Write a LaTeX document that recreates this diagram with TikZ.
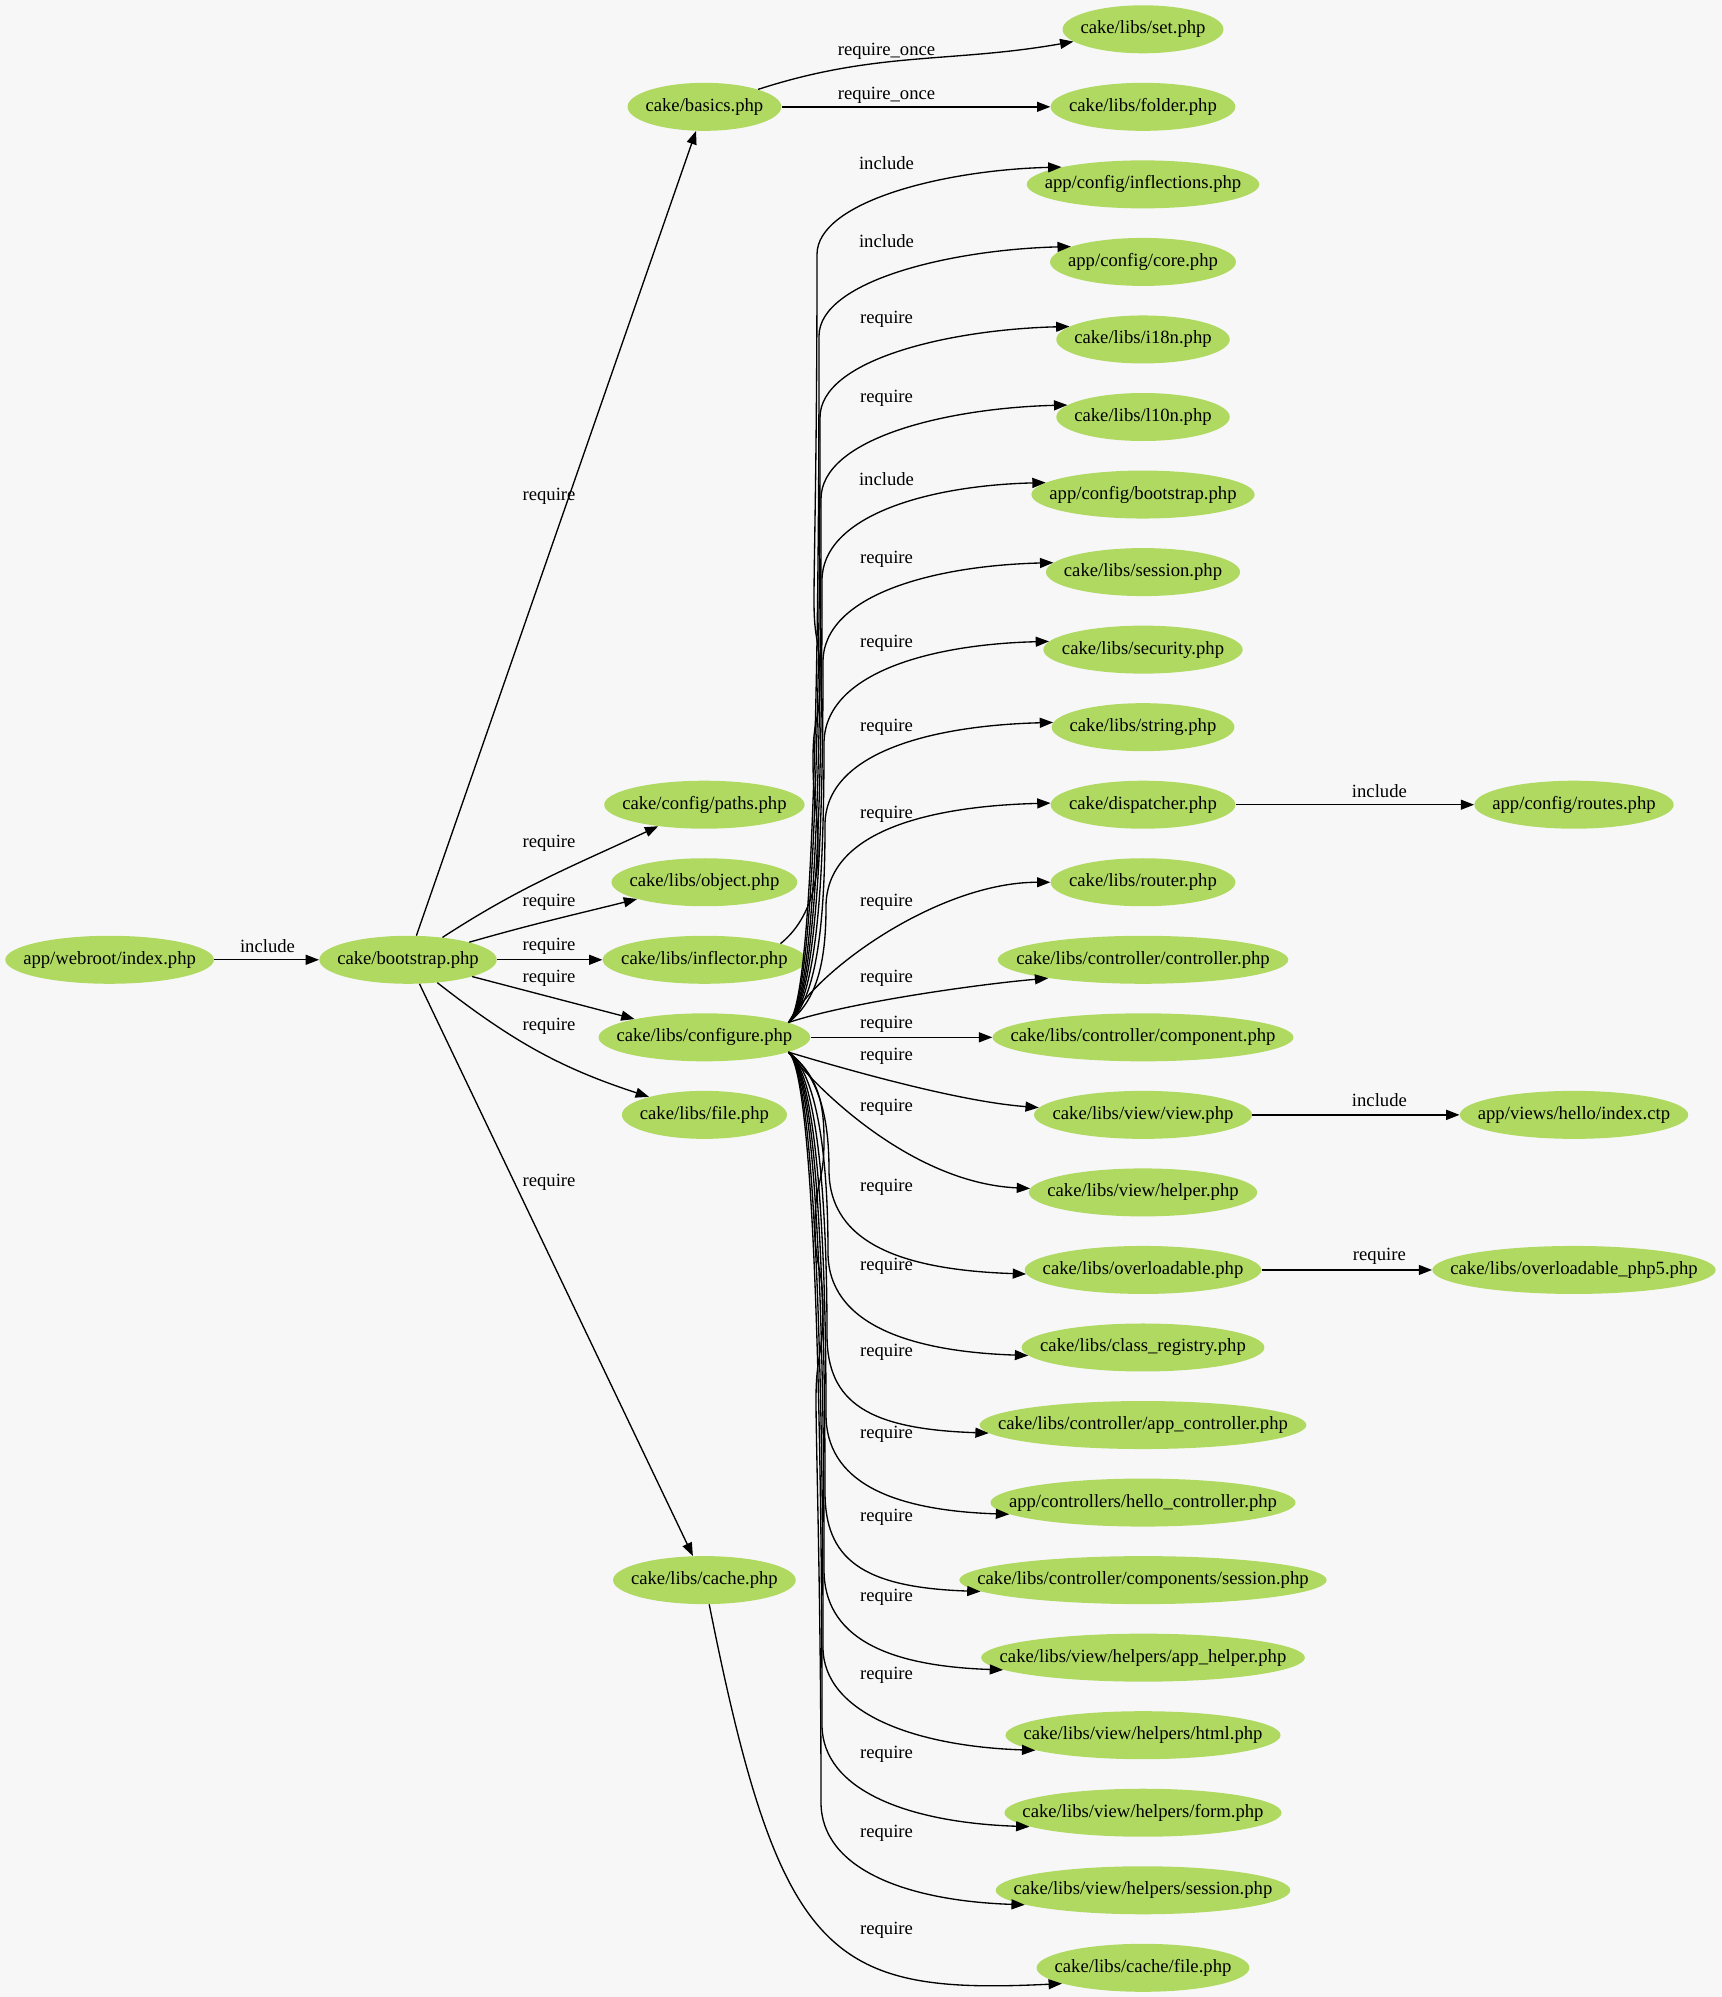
\documentclass[tikz,border=0pt]{standalone}
\usepackage{fontspec}
\setmainfont{Liberation Serif}
\usetikzlibrary{arrows.meta,shapes.geometric}

\definecolor{pagebg}{RGB}{247,247,247}
\definecolor{filefill}{RGB}{176,217,98}

\newcommand\gvfont{\fontsize{14pt}{16pt}\selectfont}

% file node: name, x, row, ellipse width (pt), label
\newcommand\gvnode[5]{%
  \node[filenode, minimum width=#4pt] (#1) at (#2,{29.3+77.54*#3}) {\makebox[0pt]{#5}};}

% edge label: name, x, y, text
\newcommand\gvlabel[4]{\node[edgelabel] (#1) at (#2,#3) {#4};}

% edge that climbs the bundle and bends right into its target
% #1 start, #2 target, #3 angle, #4 bundle x, #5 bend start y, #6 rise handle, #7 bend handle
\newcommand\upbranch[7]{%
  \draw[gvedge] (#1) .. controls +(28,-22) and +(0,#6) .. (#4,#5)
    .. controls +(0,-#7) and +(-120,3) .. (#2.#3);}
% same, going down the bundle
\newcommand\downbranch[7]{%
  \draw[gvedge] (#1) .. controls +(28,22) and +(0,-#6) .. (#4,#5)
    .. controls +(0,#7) and +(-120,-4) .. (#2.#3);}

\tikzset{
  filenode/.style={ellipse, fill=filefill, draw=none, inner sep=0pt,
    minimum height=36pt, font=\gvfont},
  edgelabel/.style={font=\gvfont, inner sep=0pt},
  gvedge/.style={draw=black, line width=1pt, -{Triangle[length=10pt,width=7.5pt]}},
}

\begin{document}
\begin{tikzpicture}[x=0.75pt, y=-0.75pt]
\fill[pagebg] (0,0) rectangle (1722,1997);
\useasboundingbox (0,0) rectangle (1722,1997);

% ---- nodes ----
\gvnode{index}{109.6}{12}{156.5}{app/webroot/index.php}
\gvnode{bootstrap}{408}{12}{133.1}{cake/bootstrap.php}

\gvnode{basics}{704.4}{1}{115.3}{cake/basics.php}
\gvnode{paths}{704.4}{10}{150.3}{cake/config/paths.php}
\gvnode{object}{704.4}{11}{139.4}{cake/libs/object.php}
\gvnode{inflector}{704.4}{12}{152.6}{cake/libs/inflector.php}
\gvnode{configure}{704.4}{13}{158.8}{cake/libs/configure.php}
\gvnode{file}{704.4}{14}{123.8}{cake/libs/file.php}
\gvnode{cache}{704.4}{20}{137}{cake/libs/cache.php}

\gvnode{set}{1143}{0}{120.7}{cake/libs/set.php}
\gvnode{folder}{1143}{1}{138.6}{cake/libs/folder.php}
\gvnode{inflections}{1143}{2}{174.4}{app/config/inflections.php}
\gvnode{core}{1143}{3}{139.4}{app/config/core.php}
\gvnode{ieighteen}{1143}{4}{130.1}{cake/libs/i18n.php}
\gvnode{lten}{1143}{5}{130.1}{cake/libs/l10n.php}
\gvnode{appboot}{1143}{6}{167.4}{app/config/bootstrap.php}
\gvnode{session}{1143}{7}{145.6}{cake/libs/session.php}
\gvnode{security}{1143}{8}{149.5}{cake/libs/security.php}
\gvnode{string}{1143}{9}{137.1}{cake/libs/string.php}
\gvnode{dispatcher}{1143}{10}{138.6}{cake/dispatcher.php}
\gvnode{router}{1143}{11}{138.6}{cake/libs/router.php}
\gvnode{controller}{1143}{12}{217.9}{cake/libs/controller/controller.php}
\gvnode{component}{1143}{13}{225.7}{cake/libs/controller/component.php}
\gvnode{view}{1143}{14}{163.5}{cake/libs/view/view.php}
\gvnode{helper}{1143}{15}{171.3}{cake/libs/view/helper.php}
\gvnode{overloadable}{1143}{16}{177.5}{cake/libs/overloadable.php}
\gvnode{classreg}{1143}{17}{182.1}{cake/libs/class\_registry.php}
\gvnode{appctrl}{1143}{18}{245.1}{cake/libs/controller/app\_controller.php}
\gvnode{helloctrl}{1143}{19}{228.8}{app/controllers/hello\_controller.php}
\gvnode{compsession}{1143}{20}{275.5}{cake/libs/controller/components/session.php}
\gvnode{apphelper}{1143}{21}{242.8}{cake/libs/view/helpers/app\_helper.php}
\gvnode{html}{1143}{22}{206.3}{cake/libs/view/helpers/html.php}
\gvnode{form}{1143}{23}{207.8}{cake/libs/view/helpers/form.php}
\gvnode{hsession}{1143}{24}{221}{cake/libs/view/helpers/session.php}
\gvnode{cachefile}{1143}{25}{159.6}{cake/libs/cache/file.php}

\gvnode{routes}{1574}{10}{149.5}{app/config/routes.php}
\gvnode{indexctp}{1574}{14}{171.3}{app/views/hello/index.ctp}
\gvnode{phpfive}{1574}{16}{212.5}{cake/libs/overloadable\_php5.php}

% ---- straight and simple edges ----
\draw[gvedge] (index) -- (bootstrap);
\draw[gvedge] (bootstrap) -- (basics);
\draw[gvedge] (bootstrap) to[out=33,in=205] (paths);
\draw[gvedge] (bootstrap) to[out=16,in=194] (object);
\draw[gvedge] (bootstrap) -- (inflector);
\draw[gvedge] (bootstrap) -- (configure);
\draw[gvedge] (bootstrap) to[out=-38,in=162] (file);
\draw[gvedge] (bootstrap) -- (cache);

\draw[gvedge] (basics) to[out=18,in=190] (set);
\draw[gvedge] (basics) -- (folder);

\draw[gvedge] (dispatcher) -- (routes);
\draw[gvedge] (view) -- (indexctp);
\draw[gvedge] (overloadable) -- (phpfive);

\draw[gvedge] (cache) .. controls (780,1960) and (830,1995) .. (cachefile.191);

% ---- bundle above configure ----
% the inflector edge drifts a little left of the bundle on its way up
\draw[gvedge] (inflector.12) .. controls +(25,-20) and +(0,40) .. (818,850)
  .. controls +(0,-45) and +(0,45) .. (813,760)
  .. controls +(0,-45) and +(0,45) .. (820,680)
  .. controls +(0,-45) and +(0,45) .. (814,600)
  .. controls +(0,-45) and +(0,200) .. (817,254.4)
  .. controls +(0,-52) and +(-120,3) .. (inflections.168);
\upbranch{configure.10}{core}{168}{819}{336}{250}{55}
\upbranch{configure.10}{ieighteen}{170}{820}{417.5}{250}{58}
\upbranch{configure.10}{lten}{171}{821}{499}{250}{61}
\upbranch{configure.10}{appboot}{173}{822}{580.5}{220}{64}
\upbranch{configure.10}{session}{174}{823}{662}{180}{67}
\upbranch{configure.10}{security}{175}{824}{743.6}{139}{70}
\upbranch{configure.10}{string}{177}{825}{825}{98}{73}
\upbranch{configure.10}{dispatcher}{179}{826}{906.7}{57}{76}

\draw[gvedge] (configure.10) .. controls +(30,-55) and +(-110,0) .. (router.180);
\draw[gvedge] (configure.10) .. controls +(60,-20) and +(-70,6) .. (controller.191);
\draw[gvedge] (configure) -- (component);
\draw[gvedge] (configure.-10) .. controls +(60,18) and +(-80,-6) .. (view.176);
\draw[gvedge] (configure.-10) .. controls +(40,50) and +(-110,-5) .. (helper.178);

% ---- bundle below configure ----
\downbranch{configure.-10}{overloadable}{182}{829}{1170}{59}{75}
\downbranch{configure.-10}{classreg}{184}{828}{1252.5}{100}{71}
\downbranch{configure.-10}{appctrl}{183}{827}{1335}{141}{68}
\downbranch{configure.-10}{helloctrl}{185}{826}{1414.6}{181}{66}
\downbranch{configure.-10}{compsession}{184}{825}{1492}{220}{66}
\downbranch{configure.-10}{apphelper}{185}{824}{1569.6}{250}{66}
\downbranch{configure.-10}{html}{188}{823}{1647.2}{250}{66}
\downbranch{configure.-10}{form}{187}{822}{1724.7}{250}{66}
% this one weaves slightly left of the bundle on its way down
\draw[gvedge] (configure.-10) .. controls +(28,22) and +(0,-40) .. (824,1140)
  .. controls +(0,45) and +(0,-45) .. (815,1225)
  .. controls +(0,45) and +(0,-45) .. (823,1310)
  .. controls +(0,45) and +(0,-45) .. (816,1400)
  .. controls +(0,45) and +(0,-200) .. (821,1802.3)
  .. controls +(0,66) and +(-120,-4) .. (hsession.187);

% ---- edge labels ----
\gvlabel{l-index}{267.5}{946}{include}
\gvlabel{l-basics}{549}{496.7}{require}
\gvlabel{l-paths}{549}{843}{require}
\gvlabel{l-object}{549}{901.8}{require}
\gvlabel{l-inflector}{549}{946}{require}
\gvlabel{l-configure}{549}{978}{require}
\gvlabel{l-file}{549}{1026.6}{require}
\gvlabel{l-cache}{549}{1182}{require}

\gvlabel{l-set}{886.5}{51}{require\_once}
\gvlabel{l-folder}{886.5}{95.5}{require\_once}
\gvlabel{l-inflections}{886.5}{163}{include}
\gvlabel{l-core}{886.5}{240.7}{include}
\gvlabel{l-ieighteen}{886.5}{319.7}{require}
\gvlabel{l-lten}{886.5}{398.7}{require}
\gvlabel{l-appboot}{886.5}{479}{include}
\gvlabel{l-session}{886.5}{559}{require}
\gvlabel{l-security}{886.5}{643}{require}
\gvlabel{l-string}{886.5}{727}{require}
\gvlabel{l-dispatcher}{886.5}{814}{require}
\gvlabel{l-router}{886.5}{901.8}{require}
\gvlabel{l-controller}{886.5}{978}{require}
\gvlabel{l-component}{886.5}{1024}{require}
\gvlabel{l-view}{886.5}{1056}{require}
\gvlabel{l-helper}{886.5}{1107}{require}
\gvlabel{l-overloadable}{886.5}{1187}{require}
\gvlabel{l-classreg}{886.5}{1266}{require}
\gvlabel{l-appctrl}{886.5}{1352.7}{require}
\gvlabel{l-helloctrl}{886.5}{1434}{require}
\gvlabel{l-compsession}{886.5}{1517}{require}
\gvlabel{l-apphelper}{886.5}{1597}{require}
\gvlabel{l-html}{886.5}{1675}{require}
\gvlabel{l-form}{886.5}{1754}{require}
\gvlabel{l-hsession}{886.5}{1833}{require}
\gvlabel{l-cachefile}{886.5}{1930}{require}

\gvlabel{l-routes}{1379.4}{791}{include}
\gvlabel{l-indexctp}{1379.4}{1100.5}{include}
\gvlabel{l-phpfive}{1379.4}{1256}{require}
\end{tikzpicture}
\end{document}
